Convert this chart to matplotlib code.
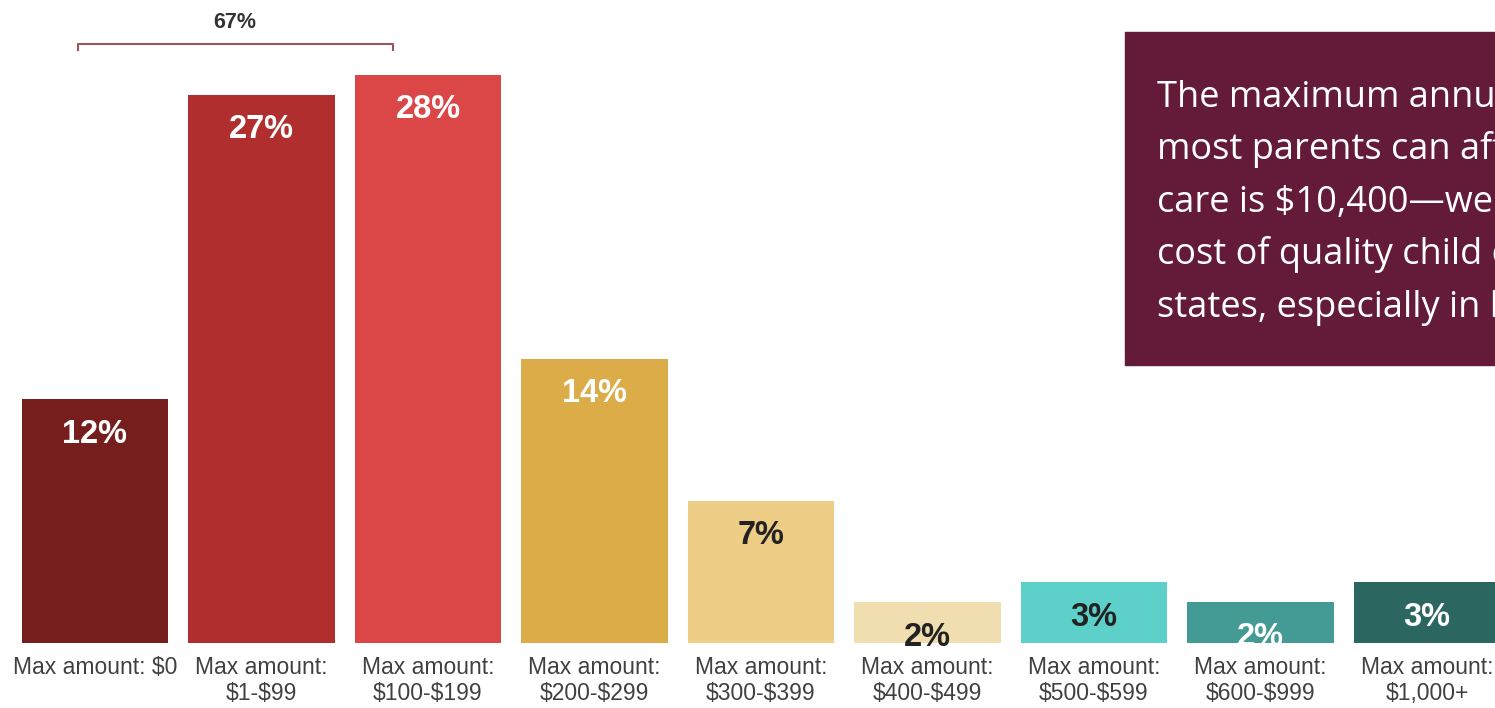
import matplotlib.pyplot as plt
from matplotlib.patches import Rectangle
from matplotlib.lines import Line2D

# Share of parents by the most they can afford to pay per month for child care
categories = ["Max amount: \\$0", "Max amount:\n\\$1-\\$99", "Max amount:\n\\$100-\\$199",
              "Max amount:\n\\$200-\\$299", "Max amount:\n\\$300-\\$399", "Max amount:\n\\$400-\\$499",
              "Max amount:\n\\$500-\\$599", "Max amount:\n\\$600-\\$999", "Max amount:\n\\$1,000+"]
shares = [12, 27, 28, 14, 7, 2, 3, 2, 3]
bar_colors = ["#761e1e", "#b02e2e", "#db4647", "#dcac48", "#eecd86",
              "#f1deb0", "#5dd1c9", "#449b95", "#2b6661"]
label_colors = ["white", "white", "white", "white", "#222222",
                "#222222", "#222222", "white", "white"]
bracket_label = "67%"
callout_lines = ["The maximum annual amount",
                 "most parents can afford to pay for child",
                 "care is \\$10,400\u2014well below the",
                 "cost of quality child care in most",
                 "states, especially in larger cities."]

W, H = 1495, 708
def fx(px):
    return px / W
def fy(py):
    return 1 - py / H

fig = plt.figure(figsize=(W / 100, H / 100), dpi=100)
px_per_pct = 20.3
base = 643
ax = fig.add_axes([0, fy(base), 1, base / H])
x = list(range(len(shares)))
ax.bar(x, shares, width=0.877, color=bar_colors)
ax.set_xlim(-95 / 166.5, (W - 95) / 166.5)
ax.set_ylim(0, base / px_per_pct)

for xi, v, c in zip(x, shares, label_colors):
    ax.text(xi, v - 1.72, f"{v}%", ha="center", va="center", color=c,
            fontsize=23.5, fontweight="bold", family="Liberation Sans")

ax.set_xticks(x)
ax.set_xticklabels(categories, fontsize=16.5, color="#404040",
                   family="Liberation Sans", linespacing=1.2)
ax.tick_params(axis="x", length=0, pad=9)
ax.set_yticks([])
for s in ax.spines.values():
    s.set_visible(False)
ax.set_facecolor("none")

# bracket over the first three bars
bc = "#9c5458"
fig.add_artist(Line2D([fx(78), fx(78), fx(393), fx(393)],
                      [fy(50), fy(44), fy(44), fy(50)], color=bc, lw=1.5))
fig.text(fx(235), fy(22), bracket_label, ha="center", va="center",
         fontsize=15.5, fontweight="bold", color="#333333", family="Liberation Sans")

# callout box (runs off the right edge)
fig.add_artist(Rectangle((fx(1125), fy(365)), fx(500), (365 - 32) / H,
                         transform=fig.transFigure, color="#641a39", zorder=0))
for i, line in enumerate(callout_lines):
    fig.text(fx(1157), fy(107 + i * 52.5), line, ha="left", va="baseline",
             color="white", fontsize=26, family="Open Sans")

fig.savefig("out.png", dpi=100)
